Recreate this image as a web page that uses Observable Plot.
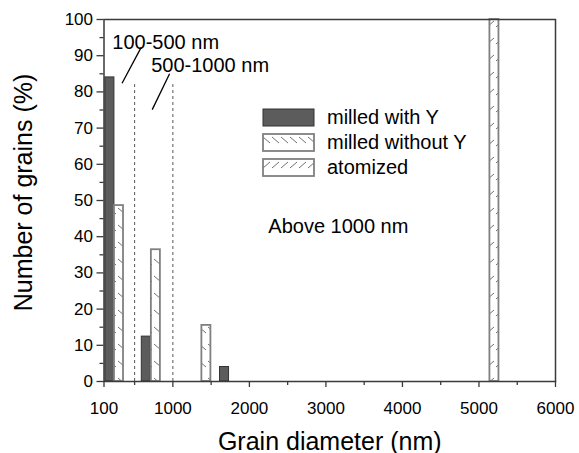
<!DOCTYPE html>
<html><head><meta charset="utf-8">
<script src="https://cdn.jsdelivr.net/npm/d3@7"></script>
<script src="https://cdn.jsdelivr.net/npm/@observablehq/plot@0.6"></script>
<style>
body{margin:0;background:#fff;font-family:"Liberation Sans",Arial,sans-serif}
#wrap{position:relative;width:579px;height:453px;overflow:hidden}
.leg{position:absolute;left:262px;top:108px;font-size:20px;color:#000}
.leg .row{position:absolute;left:0;height:18px;white-space:nowrap}
.leg .row svg{position:absolute;left:0;top:0}
.leg .row span{position:absolute;left:65px;top:-3px;line-height:24px}
</style></head><body>
<svg width="0" height="0" style="position:absolute">
  <defs>
    <pattern id="hatchBack" patternUnits="userSpaceOnUse" width="9" height="17">
      <rect width="9" height="17" fill="#fff"/>
      <line x1="1" y1="4" x2="8" y2="10" stroke="#707070" stroke-width="1"/>
    </pattern>
    <pattern id="hatchFwd" patternUnits="userSpaceOnUse" width="9" height="17">
      <rect width="9" height="17" fill="#fff"/>
      <line x1="1" y1="10" x2="8" y2="4" stroke="#707070" stroke-width="1"/>
    </pattern>
  </defs>
</svg>
<div id="wrap"></div>
<script>
// ---- data ----
const seriesNames = ["milled with Y", "milled without Y", "atomized"];
const withY_center = [177, 653, 1675];
const withY_value = [84, 12.4, 4.0];
const withoutY_center = [296, 778, 1438];
const withoutY_value = [48.6, 36.4, 15.5];
const atomized_center = [5202];
const atomized_value = [100];
const binWidth = 118;
const rangeBounds = [500, 1000];
const xTickValues = [100, 1000, 2000, 3000, 4000, 5000, 6000];
const xMinorTicks = [500, 1500, 2500, 3500, 4500, 5500];
const yTickValues = [0, 10, 20, 30, 40, 50, 60, 70, 80, 90, 100];
const yMinorTicks = [5, 15, 25, 35, 45, 55, 65, 75, 85, 95];
const rangeLabels = ["100-500 nm", "500-1000 nm", "Above 1000 nm"];

const toRows = (c, v) => c.map((x, i) => ({x1: x - binWidth / 2, x2: x + binWidth / 2, v: v[i]}));
const withY = toRows(withY_center, withY_value);
const withoutY = toRows(withoutY_center, withoutY_value);
const atom = toRows(atomized_center, atomized_value);

const notes = [
  {t: rangeLabels[0], x: 209, y: 93.7},
  {t: rangeLabels[1], x: 717, y: 87.3},
  {t: rangeLabels[2], x: 2247, y: 42.8}
];
const pointers = [
  {x1: 586, y1: 92.3, x2: 336, y2: 82.4},
  {x1: 957, y1: 85.0, x2: 730, y2: 75.1}
];

const font = "'Liberation Sans', Arial, sans-serif";
const chart = Plot.plot({
  width: 579, height: 453,
  marginLeft: 103.5, marginTop: 19, marginRight: 24, marginBottom: 72,
  x: {domain: [100, 6000]},
  y: {domain: [0, 100]},
  style: {fontFamily: font, fontSize: "17px", color: "#000", background: "#fff"},
  marks: [
    Plot.rect(withY, {x1: "x1", x2: "x2", y1: 0, y2: "v", fill: "#5c5c5c", stroke: "#333", strokeWidth: 1}),
    Plot.rect(withoutY, {x1: "x1", x2: "x2", y1: 0, y2: "v", fill: "url(#hatchBack)", stroke: "#808080", strokeWidth: 1.8}),
    Plot.rect(atom, {x1: "x1", x2: "x2", y1: 0, y2: "v", fill: "url(#hatchFwd)", stroke: "#808080", strokeWidth: 1.8}),
    Plot.ruleX(rangeBounds, {y1: 0, y2: 82, stroke: "#555", strokeWidth: 1, strokeDasharray: "3,3"}),
    Plot.link(pointers, {x1: "x1", y1: "y1", x2: "x2", y2: "y2", stroke: "#000", strokeWidth: 1.3}),
    Plot.text(notes, {x: "x", y: "y", text: "t", textAnchor: "start", fontSize: 20, fill: "#000"}),
    Plot.frame({stroke: "#3a3a3a", strokeWidth: 1.5}),
    Plot.axisX(xTickValues, {tickSize: 6, tickPadding: 14, label: null, fontSize: 17, tickFormat: d => String(d), stroke: "#3a3a3a", strokeWidth: 1.3}),
    Plot.axisX(xMinorTicks, {tickSize: 4, text: null, label: null, stroke: "#3a3a3a", strokeWidth: 1.3}),
    Plot.axisY(yTickValues, {tickSize: 7, tickPadding: 4, label: null, fontSize: 17, tickFormat: d => String(d), stroke: "#3a3a3a", strokeWidth: 1.3}),
    Plot.axisY(yMinorTicks, {tickSize: 4, text: null, label: null, stroke: "#3a3a3a", strokeWidth: 1.3}),
    Plot.text(["Grain diameter (nm)"], {frameAnchor: "bottom", textAnchor: "middle", lineAnchor: "middle", dy: 60, fontSize: 25, fill: "#000"}),
    Plot.text(["Number of grains (%)"], {frameAnchor: "left", textAnchor: "middle", lineAnchor: "middle", dx: -80, dy: -8, rotate: -90, fontSize: 25, fill: "#000"})
  ]
});
const wrap = document.getElementById("wrap");
wrap.appendChild(chart);

// legend
const legFills = [
  {fill: "#5c5c5c", stroke: "#333", sw: 1},
  {fill: "url(#hatchBack)", stroke: "#808080", sw: 1.8},
  {fill: "url(#hatchFwd)", stroke: "#808080", sw: 1.8}
];
const legTops = [0, 24.5, 50];
const leg = document.createElement("div");
leg.className = "leg";
seriesNames.forEach((name, i) => {
  const row = document.createElement("div");
  row.className = "row";
  row.style.top = legTops[i] + "px";
  row.innerHTML = `<svg width="54" height="19"><rect x="1" y="1" width="51" height="17" fill="${legFills[i].fill}" stroke="${legFills[i].stroke}" stroke-width="${legFills[i].sw}"/></svg><span>${name}</span>`;
  leg.appendChild(row);
});
wrap.appendChild(leg);
</script>
</body></html>
